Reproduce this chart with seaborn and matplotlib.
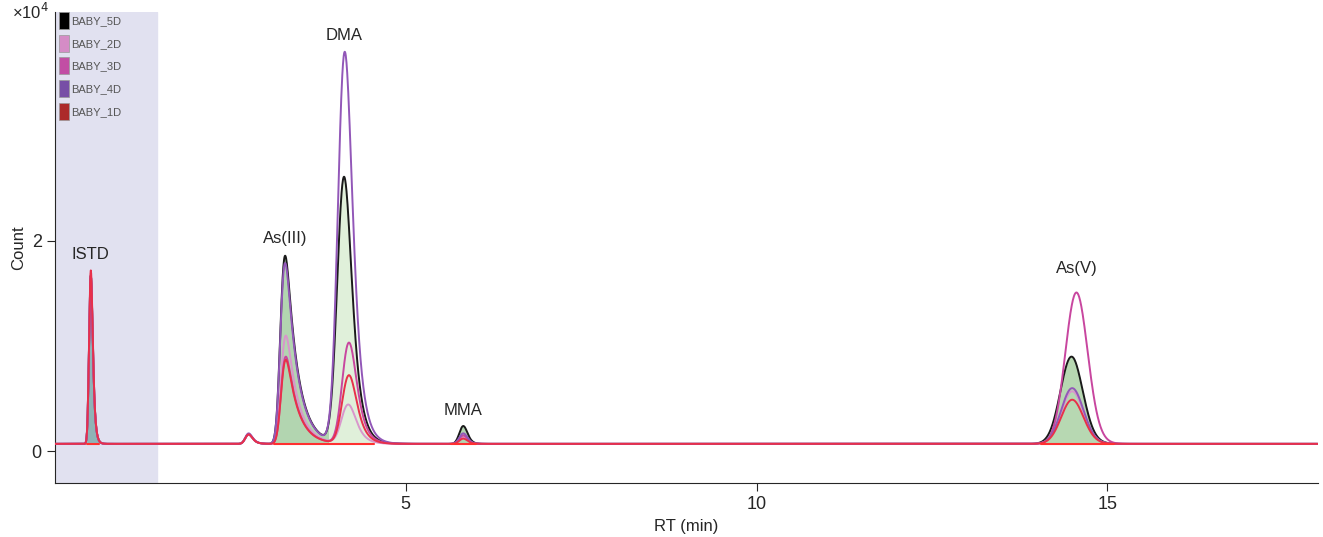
import math
import numpy as np
import pandas as pd
import matplotlib.pyplot as plt
import seaborn as sns
from matplotlib.patches import Rectangle

# ---- data (heights above baseline, in units of 1e4 counts) ----
samples = ["BABY_5D", "BABY_2D", "BABY_3D", "BABY_4D", "BABY_1D"]
legend_colors = ["#000000", "#d58cc6", "#c24ea4", "#774ea6", "#ac2a2a"]
line_colors = ["#1a1a1a", "#d996cc", "#c8469f", "#9257b8", "#e8304a"]

baseline = 0.07

peak_names = ["ISTD", "bump", "As(III)", "DMA", "MMA", "As(V)"]
# apex retention time of each peak per sample (min)
rt_5d = [0.51, 2.76, 3.28, 4.12, 5.82, 14.49]
rt_2d = [0.51, 2.76, 3.29, 4.18, 5.82, 14.50]
rt_3d = [0.51, 2.76, 3.29, 4.19, 5.82, 14.56]
rt_4d = [0.51, 2.76, 3.28, 4.13, 5.82, 14.50]
rt_1d = [0.51, 2.76, 3.29, 4.19, 5.82, 14.50]
# peak heights per sample
h_5d = [1.60, 0.09, 1.79, 2.53, 0.17, 0.83]
h_2d = [1.58, 0.09, 1.03, 0.37, 0.06, 0.50]
h_3d = [1.60, 0.09, 0.83, 0.96, 0.08, 1.44]
h_4d = [1.60, 0.10, 1.72, 3.72, 0.10, 0.53]
h_1d = [1.65, 0.09, 0.80, 0.65, 0.05, 0.42]
# peak shape: gaussian width and exponential tailing (min)
sigma = [0.021, 0.04, 0.048, 0.082, 0.05, 0.15]
tau = [0.025, 0.05, 0.16, 0.10, 0.04, 0.06]

rts = [rt_5d, rt_2d, rt_3d, rt_4d, rt_1d]
heights = [h_5d, h_2d, h_3d, h_4d, h_1d]

# integration windows of the reference trace (BABY_5D)
fill_windows = [(0.45, 0.62), (3.12, 3.90), (3.90, 4.55), (5.65, 6.0), (14.05, 15.1)]
fill_colors = ["#8fb3b6", "#b2d5b0", "#e0f0da", "#b2d5b0", "#b7d8b2"]

rt_grid = np.linspace(0, 18, 3601)
erfc = np.vectorize(math.erfc)


def emg(x, s, t):
    # exponentially modified gaussian, mu = 0
    lam = 1.0 / t
    arg = np.clip(lam / 2 * (lam * s * s - 2 * x), None, 700)
    return np.exp(arg) * erfc((lam * s * s - x) / (math.sqrt(2) * s))


def peak(c, a, s, t):
    local = np.linspace(-5 * s, 5 * s + 10 * t, 2001)
    shape = emg(local, s, t)
    apex = local[np.argmax(shape)]
    return a * emg(rt_grid - c + apex, s, t) / shape.max()


def trace(rt, h):
    y = np.full_like(rt_grid, baseline)
    for c, a, s, t in zip(rt, h, sigma, tau):
        y += peak(c, a, s, t)
    return y


frames = []
for name, rt, h in zip(samples, rts, heights):
    frames.append(pd.DataFrame({"RT": rt_grid, "Count": trace(rt, h), "sample": name}))
df = pd.concat(frames, ignore_index=True)

# ---- plot ----
sns.set_style("ticks")
plt.rcParams['font.family'] = ['Liberation Sans', 'DejaVu Sans']
narrow = ['Liberation Sans Narrow', 'Liberation Sans', 'DejaVu Sans']

fig = plt.figure(figsize=(13.23, 5.37), dpi=100)
ax = fig.add_axes([0.0416, 0.101, 0.9544, 0.877])

ax.axvspan(0, 1.46, color="#e1e1f0", zorder=0)

ref = df[df["sample"] == "BABY_5D"]
for (x0, x1), fc in zip(fill_windows, fill_colors):
    m = (ref["RT"] >= x0) & (ref["RT"] <= x1)
    ax.fill_between(ref["RT"][m], baseline, ref["Count"][m], color=fc, lw=0, zorder=1)
    ax.plot([x0, x1], [baseline, baseline], color="#ff3030", lw=1.5, zorder=4)

sns.lineplot(data=df, x="RT", y="Count", hue="sample", hue_order=samples,
             palette=line_colors, linewidth=1.4, ax=ax, legend=False, zorder=3)

ax.set_xlim(0, 18)
ax.set_ylim(-0.30, 4.18)
ax.set_xticks([5, 10, 15])
ax.set_yticks([0, 2])
ax.tick_params(direction="out", length=6, labelsize=13)
for lab in ax.get_xticklabels() + ax.get_yticklabels():
    lab.set_family(narrow)
ax.set_xlabel("RT (min)", fontsize=12, family=narrow)
ax.set_ylabel("Count", fontsize=12, family=narrow)
sns.despine(ax=ax)
fig.text(0.009, 0.965, "×10$^4$", fontsize=12, family=narrow)

# peak labels
label_pos = [("ISTD", 0.51, 1.80), ("As(III)", 3.28, 1.95), ("DMA", 4.12, 3.88),
             ("MMA", 5.82, 0.32), ("As(V)", 14.56, 1.67)]
for txt, x, y in label_pos:
    ax.text(x, y, txt, ha="center", va="bottom", fontsize=12)

handles = [Rectangle((0, 0), 1, 1, facecolor=c, edgecolor="#999999", lw=0.5) for c in legend_colors]
leg = ax.legend(handles, samples, loc="upper left", bbox_to_anchor=(0.003, 1.0), frameon=False,
                handlelength=0.9, handleheight=2.0, handletextpad=0.25, labelspacing=0.5,
                fontsize=8, borderaxespad=0.0, borderpad=0.0)
for t in leg.get_texts():
    t.set_color("#555555")
    t.set_family(narrow)

fig.savefig("out.png", dpi=100)
